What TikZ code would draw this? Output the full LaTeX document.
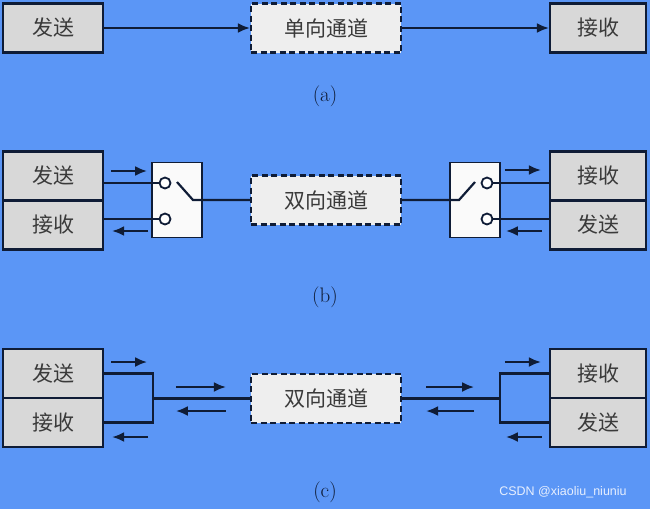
\documentclass[tikz,border=0pt]{standalone}
\usepackage{fontspec}
\newfontfamily\cjk{Noto Sans CJK SC}
\newfontfamily\wmfont{Liberation Sans}
\usetikzlibrary{arrows.meta}
\definecolor{bgblue}{HTML}{5B96F6}
\definecolor{edge}{HTML}{0F1C36}
\definecolor{boxgray}{HTML}{D8D8D8}
\definecolor{changray}{HTML}{EEEEEE}
\definecolor{txtgray}{HTML}{3A3A3A}

\begin{document}
\begin{tikzpicture}[x=1pt,y=-1pt,
        box/.style={draw=edge,line width=2.2pt,fill=boxgray,minimum width=100pt,
            minimum height=49pt,inner sep=0pt,text=txtgray,
            font=\cjk\fontsize{21}{24}\selectfont},
        rbox/.style={box,minimum width=96pt},
        chan/.style={box,fill=changray,dash pattern=on 6pt off 3.5pt,minimum width=150pt},
        switchbox/.style={draw=edge,line width=1.8pt,fill=white!96!gray,
            minimum width=50pt,minimum height=75pt,inner sep=0pt},
        port/.style={circle,draw=edge,line width=1.8pt,fill=white,
            minimum size=11pt,inner sep=0pt},
        wire/.style={draw=edge,line width=2.2pt},
        flow/.style={wire,-{Latex[length=12pt,width=10pt]}},
        sublabel/.style={text=edge,font=\fontsize{21}{24}\selectfont}]
    \fill[bgblue] (0,0) rectangle (650,509);

    % (a) one way
    \node[box] (sa) at (53,28) {发送};
    \node[chan] (ca) at (326,28) {单向通道};
    \node[rbox] (ra) at (598,28) {接收};
    \draw[flow] (sa) -- (ca);
    \draw[flow] (ca) -- (ra);
    \node[sublabel] (la) at (325,96) {(a)};

    % (b) half duplex
    \node[box] (sb) at (53,176) {发送};
    \node[box] (rb) at (53,225) {接收};
    \node[chan] (cb) at (326,200) {双向通道};
    \node[rbox] (rb2) at (598,176) {接收};
    \node[rbox] (sb2) at (598,225) {发送};

    \node[switchbox] (swl) at (177,200) {};
    \node[port] (pl1) at (165,183) {};
    \node[port] (pl2) at (165,219) {};
    \coordinate (kl) at (177,182);
    \coordinate (hl) at (193,200);
    \draw[wire] (sb.east |- pl1) -- (pl1.west);
    \draw[wire] (rb.east |- pl2) -- (pl2.west);
    \draw[wire] (kl) -- (hl) -- (cb.west);

    \node[switchbox] (swr) at (475,200) {};
    \node[port] (pr1) at (487,183) {};
    \node[port] (pr2) at (487,219) {};
    \coordinate (kr) at (475,182);
    \coordinate (hr) at (459,200);
    \draw[wire] (pr1.east) -- (rb2.west |- pr1);
    \draw[wire] (pr2.east) -- (sb2.west |- pr2);
    \draw[wire] (cb.east) -- (hr) -- (kr);

    \draw[flow] ([xshift=7pt,yshift=5pt]sb.east) -- ++(36,0);
    \draw[flow] ([xshift=44pt,yshift=-6pt]rb.east) -- ++(-36,0);
    \draw[flow] ([xshift=-44pt,yshift=6pt]rb2.west) -- ++(36,0);
    \draw[flow] ([xshift=-7pt,yshift=-6pt]sb2.west) -- ++(-36,0);
    \node[sublabel] (lb) at (325,297) {(b)};

    % (c) full duplex
    \node[box] (sc) at (53,373.5) {发送};
    \node[box] (rc) at (53,422.5) {接收};
    \node[chan] (cc) at (326,398.5) {双向通道};
    \node[rbox] (rc2) at (598,373.5) {接收};
    \node[rbox] (sc2) at (598,422.5) {发送};

    \coordinate (jl) at (153,398.5);
    \coordinate (jr) at (500,398.5);
    \draw[wire] (sc.east) -| (jl) |- (rc.east);
    \draw[wire] (jl) -- (cc.west);
    \draw[wire] (rc2.west) -| (jr) |- (sc2.west);
    \draw[wire] (cc.east) -- (jr);

    \draw[flow] ([xshift=7pt,yshift=11.5pt]sc.east) -- ++(36,0);
    \draw[flow] ([xshift=44pt,yshift=-14.5pt]rc.east) -- ++(-36,0);
    \draw[flow] ([xshift=-44pt,yshift=11.5pt]rc2.west) -- ++(36,0);
    \draw[flow] ([xshift=-7pt,yshift=-14.5pt]sc2.west) -- ++(-36,0);
    \draw[flow] ([xshift=-74pt,yshift=11.5pt]cc.west) -- ++(50,0);
    \draw[flow] ([xshift=-24pt,yshift=-12.5pt]cc.west) -- ++(-50,0);
    \draw[flow] ([xshift=24pt,yshift=11.5pt]cc.east) -- ++(48,0);
    \draw[flow] ([xshift=72pt,yshift=-12.5pt]cc.east) -- ++(-48,0);
    \node[sublabel] (lc) at (325,492) {(c)};

    \node[text=white!85!bgblue,font=\wmfont\fontsize{12.5}{14}\selectfont] (wm) at (563,492) {CSDN @xiaoliu\_niuniu};
\end{tikzpicture}
\end{document}
